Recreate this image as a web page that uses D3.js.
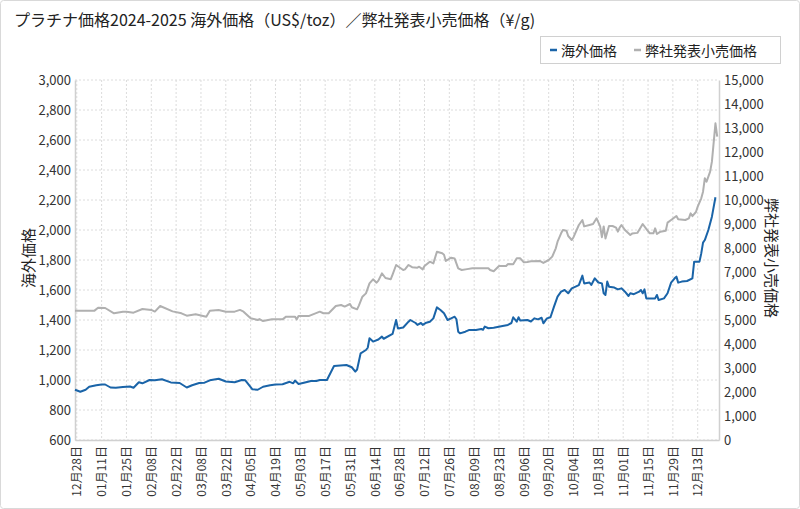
<!DOCTYPE html>
<html><head><meta charset="utf-8">
<script src="https://cdn.jsdelivr.net/npm/d3@7"></script>
<style>
html,body{margin:0;padding:0;background:#fff;}
svg{display:block;font-family:"Noto Sans CJK JP","Noto Sans",sans-serif;}
</style></head>
<body><svg id="c" width="800" height="509"></svg>
<script>
// 海外価格 (US$/toz)
const overseasDates = ["2024-12-27","2024-12-30","2025-01-02","2025-01-04","2025-01-08","2025-01-11","2025-01-13","2025-01-16","2025-01-19","2025-01-23","2025-01-27","2025-01-29","2025-02-01","2025-02-03","2025-02-07","2025-02-10","2025-02-14","2025-02-19","2025-02-24","2025-02-28","2025-03-03","2025-03-07","2025-03-10","2025-03-13","2025-03-18","2025-03-22","2025-03-27","2025-03-31","2025-04-02","2025-04-06","2025-04-09","2025-04-12","2025-04-16","2025-04-19","2025-04-23","2025-04-27","2025-04-29","2025-04-30","2025-05-02","2025-05-05","2025-05-09","2025-05-12","2025-05-14","2025-05-18","2025-05-22","2025-05-29","2025-06-01","2025-06-03","2025-06-04","2025-06-06","2025-06-09","2025-06-10","2025-06-11","2025-06-13","2025-06-16","2025-06-18","2025-06-19","2025-06-24","2025-06-26","2025-06-27","2025-06-30","2025-07-03","2025-07-04","2025-07-07","2025-07-08","2025-07-10","2025-07-11","2025-07-13","2025-07-15","2025-07-17","2025-07-19","2025-07-21","2025-07-23","2025-07-25","2025-07-27","2025-07-29","2025-07-30","2025-07-31","2025-08-01","2025-08-04","2025-08-06","2025-08-10","2025-08-13","2025-08-14","2025-08-15","2025-08-17","2025-08-20","2025-08-25","2025-08-28","2025-08-30","2025-08-31","2025-09-02","2025-09-03","2025-09-04","2025-09-08","2025-09-10","2025-09-12","2025-09-14","2025-09-16","2025-09-17","2025-09-19","2025-09-21","2025-09-23","2025-09-25","2025-09-27","2025-09-29","2025-10-01","2025-10-03","2025-10-07","2025-10-09","2025-10-10","2025-10-13","2025-10-14","2025-10-16","2025-10-18","2025-10-20","2025-10-21","2025-10-22","2025-10-23","2025-10-24","2025-10-27","2025-10-29","2025-10-31","2025-11-02","2025-11-04","2025-11-05","2025-11-07","2025-11-10","2025-11-11","2025-11-12","2025-11-13","2025-11-14","2025-11-19","2025-11-20","2025-11-21","2025-11-24","2025-11-26","2025-11-28","2025-11-30","2025-12-01","2025-12-02","2025-12-04","2025-12-07","2025-12-10","2025-12-11","2025-12-14","2025-12-15","2025-12-16","2025-12-17","2025-12-19","2025-12-21","2025-12-23"];
const overseasValues = [935,922,935,955,965,970,970,950,948,953,957,948,985,978,1000,998,1005,984,980,950,965,980,982,998,1008,990,985,1000,998,938,935,955,965,970,972,988,978,996,974,982,993,993,1000,1000,1093,1100,1085,1056,1070,1178,1200,1215,1278,1256,1270,1289,1275,1307,1400,1344,1350,1389,1400,1380,1367,1380,1367,1382,1388,1411,1484,1467,1445,1400,1411,1422,1405,1322,1311,1322,1333,1333,1340,1335,1356,1345,1348,1360,1367,1380,1418,1389,1418,1396,1400,1390,1411,1404,1415,1378,1411,1418,1489,1556,1589,1600,1578,1611,1633,1696,1644,1650,1633,1678,1650,1644,1578,1567,1656,1622,1616,1604,1611,1589,1560,1578,1572,1589,1600,1578,1604,1544,1544,1567,1533,1544,1578,1649,1678,1689,1649,1656,1660,1678,1789,1789,1844,1916,1933,2000,2089,2218];

// 弊社発表小売価格 (¥/g)
const retailDates = ["2024-12-27","2025-01-07","2025-01-09","2025-01-13","2025-01-18","2025-01-23","2025-01-25","2025-01-29","2025-02-03","2025-02-08","2025-02-10","2025-02-13","2025-02-20","2025-02-25","2025-02-28","2025-03-05","2025-03-11","2025-03-13","2025-03-18","2025-03-22","2025-03-27","2025-03-30","2025-04-01","2025-04-05","2025-04-09","2025-04-10","2025-04-12","2025-04-17","2025-04-23","2025-04-25","2025-04-30","2025-05-01","2025-05-02","2025-05-08","2025-05-14","2025-05-16","2025-05-19","2025-05-23","2025-05-26","2025-05-28","2025-05-31","2025-06-01","2025-06-04","2025-06-05","2025-06-07","2025-06-09","2025-06-11","2025-06-13","2025-06-15","2025-06-16","2025-06-18","2025-06-20","2025-06-23","2025-06-24","2025-06-26","2025-06-30","2025-07-01","2025-07-03","2025-07-05","2025-07-08","2025-07-09","2025-07-11","2025-07-12","2025-07-15","2025-07-17","2025-07-19","2025-07-22","2025-07-23","2025-07-24","2025-07-27","2025-07-29","2025-07-31","2025-08-02","2025-08-05","2025-08-08","2025-08-17","2025-08-18","2025-08-20","2025-08-23","2025-08-27","2025-08-28","2025-08-31","2025-09-02","2025-09-04","2025-09-06","2025-09-08","2025-09-10","2025-09-15","2025-09-17","2025-09-20","2025-09-22","2025-09-24","2025-09-25","2025-09-27","2025-09-28","2025-09-30","2025-10-01","2025-10-03","2025-10-04","2025-10-07","2025-10-09","2025-10-10","2025-10-13","2025-10-15","2025-10-17","2025-10-19","2025-10-20","2025-10-21","2025-10-22","2025-10-24","2025-10-26","2025-10-28","2025-10-29","2025-10-30","2025-10-31","2025-11-02","2025-11-05","2025-11-06","2025-11-09","2025-11-10","2025-11-12","2025-11-14","2025-11-16","2025-11-18","2025-11-19","2025-11-20","2025-11-22","2025-11-25","2025-11-26","2025-11-28","2025-12-01","2025-12-02","2025-12-06","2025-12-08","2025-12-09","2025-12-10","2025-12-12","2025-12-13","2025-12-15","2025-12-16","2025-12-17","2025-12-18","2025-12-20","2025-12-21","2025-12-23","2025-12-24"];
const retailValues = [5390,5390,5514,5500,5278,5347,5347,5306,5460,5420,5350,5583,5360,5278,5180,5236,5139,5389,5420,5347,5347,5420,5347,5069,5000,5040,4958,5028,5028,5139,5139,5028,5170,5170,5347,5280,5280,5583,5625,5560,5667,5530,5444,5600,5972,6110,6528,6695,6556,6640,6945,6750,6700,6890,7292,7083,7110,7292,7200,7180,7220,7111,7250,7430,7360,7847,7778,7720,7458,7597,7560,7153,7083,7120,7153,7153,7083,7030,7250,7250,7330,7320,7570,7570,7403,7420,7450,7460,7380,7500,7640,7986,8264,8611,8750,8722,8500,8333,8450,8958,9167,8900,8958,9000,9236,8900,8450,8900,8400,8917,8917,8850,8680,8850,8958,8750,8542,8600,8630,8750,9000,8800,8611,8611,8820,8583,8680,8722,9056,9167,9333,9194,9167,9236,9444,9330,9500,9722,10070,10347,10903,10764,11180,11597,13194,12639];

const leftTicks = [600,800,1000,1200,1400,1600,1800,2000,2200,2400,2600,2800,3000];
const rightTicks = [0,1000,2000,3000,4000,5000,6000,7000,8000,9000,10000,11000,12000,13000,14000,15000];
const xDomain = ["2024-12-27","2025-12-25"];
const xTickStart = "2024-12-28";
const titleText = "プラチナ価格2024-2025 海外価格（US$/toz）／弊社発表小売価格（¥/g)";
const seriesNames = ["海外価格","弊社発表小売価格"];

const parse = d3.timeParse("%Y-%m-%d");
const svg = d3.select("#c");
const L = 75, R = 719, T = 80, B = 440;
const blue = "#1a64a8", gray = "#b0b0b0";

svg.append("rect").attr("x",0.5).attr("y",0.5).attr("width",799).attr("height",508)
  .attr("rx",3).attr("fill","#fff").attr("stroke","#d9d9d9");

const x = d3.scaleTime().domain(xDomain.map(parse)).range([L,R]);
const yL = d3.scaleLinear().domain([600,3000]).range([B,T]);
const yR = d3.scaleLinear().domain([0,15000]).range([B,T]);

const xTicks = d3.timeDay.every(14).range ? d3.range(0,26).map(i=>d3.timeDay.offset(parse(xTickStart), i*14)) : [];

// gridlines
const grid = svg.append("g");
grid.selectAll("line.h").data(leftTicks).join("line")
  .attr("x1",L).attr("x2",R).attr("y1",d=>yL(d)).attr("y2",d=>yL(d))
  .attr("stroke","#dcdcdc").attr("stroke-dasharray","2,2");
grid.selectAll("line.v").data(xTicks).join("line")
  .attr("x1",d=>x(d)).attr("x2",d=>x(d)).attr("y1",T).attr("y2",B)
  .attr("stroke","#dcdcdc").attr("stroke-dasharray","2,2");

// axes
const fmtN = d3.format(",");
const axL = svg.append("g").attr("transform",`translate(${L},0)`)
  .call(d3.axisLeft(yL).tickValues(leftTicks).tickFormat(fmtN).tickSize(0).tickPadding(4));
const axR = svg.append("g").attr("transform",`translate(${R},0)`)
  .call(d3.axisRight(yR).tickValues(rightTicks).tickFormat(fmtN).tickSize(0).tickPadding(5));
const axB = svg.append("g").attr("transform",`translate(0,${B})`)
  .call(d3.axisBottom(x).tickValues(xTicks).tickFormat(d3.timeFormat("%m月%d日")).tickSize(0).tickPadding(6));
[axL,axR,axB].forEach(a=>{
  a.select(".domain").attr("stroke","#d0d0d0").attr("stroke-width",1.5);
  a.selectAll("text").attr("fill","#333").attr("font-size",13)
    .attr("font-family",'"Noto Sans CJK JP","Noto Sans",sans-serif');
});
axB.selectAll("text").attr("font-size",12).attr("transform","rotate(-90)")
  .attr("text-anchor","end").attr("dy","0.35em").attr("x",-6).attr("y",0);

// lines
const blueData = overseasDates.map((d,i)=>({d:parse(d),v:overseasValues[i]}));
const grayData = retailDates.map((d,i)=>({d:parse(d),v:retailValues[i]}));
svg.append("path").datum(grayData).attr("fill","none").attr("stroke",gray).attr("stroke-width",2)
  .attr("stroke-linejoin","round")
  .attr("d",d3.line().x(p=>x(p.d)).y(p=>yR(p.v)));
svg.append("path").datum(blueData).attr("fill","none").attr("stroke",blue).attr("stroke-width",2)
  .attr("stroke-linejoin","round")
  .attr("d",d3.line().x(p=>x(p.d)).y(p=>yL(p.v)));

// title
svg.append("text").attr("x",14).attr("y",26).attr("font-size",16).attr("fill","#222").text(titleText);

// axis titles
svg.append("text").attr("transform","translate(34,258) rotate(-90)").attr("text-anchor","middle")
  .attr("font-size",15).attr("fill","#222").text(seriesNames[0]);
svg.append("text").attr("transform","translate(766,258) rotate(90)").attr("text-anchor","middle")
  .attr("font-size",15).attr("fill","#222").text(seriesNames[1]);

// legend
const lg = svg.append("g");
lg.append("rect").attr("x",540.5).attr("y",36.5).attr("width",240).attr("height",27)
  .attr("fill","#fff").attr("stroke","#d0d0d0");
const items = [{n:seriesNames[0],c:blue,x:550},{n:seriesNames[1],c:gray,x:634}];
items.forEach(it=>{
  lg.append("line").attr("x1",it.x).attr("x2",it.x+7).attr("y1",50).attr("y2",50)
    .attr("stroke",it.c).attr("stroke-width",2.5);
  lg.append("text").attr("x",it.x+11).attr("y",55.5).attr("font-size",14).attr("fill","#222").text(it.n);
});
</script></body></html>
